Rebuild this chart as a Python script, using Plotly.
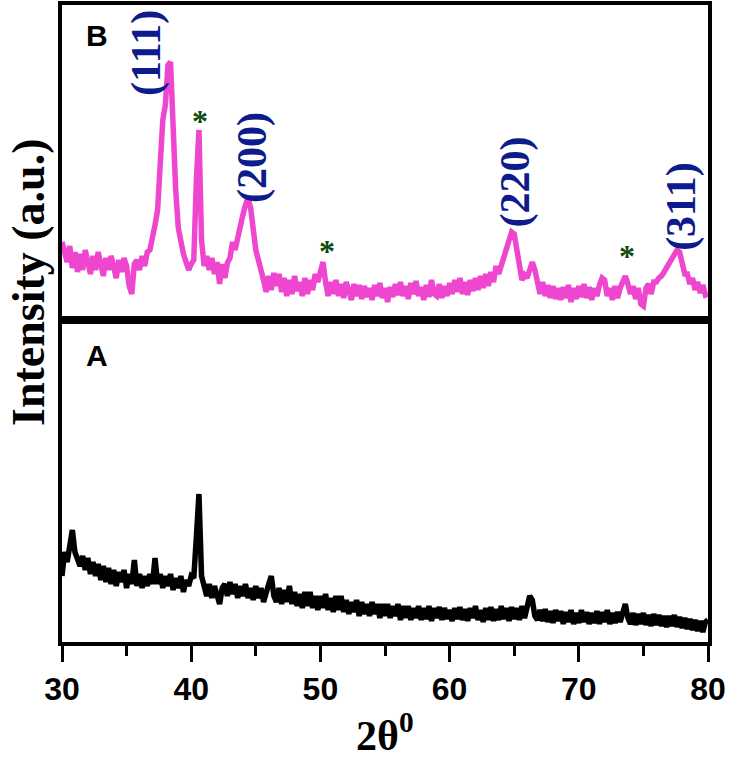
import plotly.graph_objects as go

two_theta = [
    30.0, 30.2, 30.4, 30.6, 30.8, 31.0, 31.2, 31.4, 31.6, 31.8,
    32.0, 32.2, 32.4, 32.6, 32.8, 33.0, 33.2, 33.4, 33.6, 33.8,
    34.0, 34.2, 34.4, 34.6, 34.8, 35.0, 35.2, 35.4, 35.6, 35.8,
    36.0, 36.2, 36.4, 36.6, 36.8, 37.0, 37.2, 37.4, 37.6, 37.8,
    38.0, 38.2, 38.4, 38.6, 38.8, 39.0, 39.2, 39.4, 39.6, 39.8,
    40.0, 40.2, 40.4, 40.6, 40.8, 41.0, 41.2, 41.4, 41.6, 41.8,
    42.0, 42.2, 42.4, 42.6, 42.8, 43.0, 43.2, 43.4, 43.6, 43.8,
    44.0, 44.2, 44.4, 44.6, 44.8, 45.0, 45.2, 45.4, 45.6, 45.8,
    46.0, 46.2, 46.4, 46.6, 46.8, 47.0, 47.2, 47.4, 47.6, 47.8,
    48.0, 48.2, 48.4, 48.6, 48.8, 49.0, 49.2, 49.4, 49.6, 49.8,
    50.0, 50.2, 50.4, 50.6, 50.8, 51.0, 51.2, 51.4, 51.6, 51.8,
    52.0, 52.2, 52.4, 52.6, 52.8, 53.0, 53.2, 53.4, 53.6, 53.8,
    54.0, 54.2, 54.4, 54.6, 54.8, 55.0, 55.2, 55.4, 55.6, 55.8,
    56.0, 56.2, 56.4, 56.6, 56.8, 57.0, 57.2, 57.4, 57.6, 57.8,
    58.0, 58.2, 58.4, 58.6, 58.8, 59.0, 59.2, 59.4, 59.6, 59.8,
    60.0, 60.2, 60.4, 60.6, 60.8, 61.0, 61.2, 61.4, 61.6, 61.8,
    62.0, 62.2, 62.4, 62.6, 62.8, 63.0, 63.2, 63.4, 63.6, 63.8,
    64.0, 64.2, 64.4, 64.6, 64.8, 65.0, 65.2, 65.4, 65.6, 65.8,
    66.0, 66.2, 66.4, 66.6, 66.8, 67.0, 67.2, 67.4, 67.6, 67.8,
    68.0, 68.2, 68.4, 68.6, 68.8, 69.0, 69.2, 69.4, 69.6, 69.8,
    70.0, 70.2, 70.4, 70.6, 70.8, 71.0, 71.2, 71.4, 71.6, 71.8,
    72.0, 72.2, 72.4, 72.6, 72.8, 73.0, 73.2, 73.4, 73.6, 73.8,
    74.0, 74.2, 74.4, 74.6, 74.8, 75.0, 75.2, 75.4, 75.6, 75.8,
    76.0, 76.2, 76.4, 76.6, 76.8, 77.0, 77.2, 77.4, 77.6, 77.8,
    78.0, 78.2, 78.4, 78.6, 78.8, 79.0, 79.2, 79.4, 79.6, 79.8,
    80.0,
]

intensity_B = [
    78, 66, 58, 74, 52, 68, 48, 66, 50, 70,
    58, 46, 64, 50, 68, 54, 44, 62, 50, 64,
    52, 42, 60, 48, 62, 54, 34, 26, 56, 60,
    50, 64, 54, 68, 70, 80, 95, 110, 150, 200,
    215, 255, 258, 190, 130, 92, 78, 66, 58, 50,
    56, 60, 140, 190, 80, 54, 64, 50, 62, 46,
    58, 36, 56, 42, 57, 62, 78, 70, 82, 96,
    105, 115, 122, 112, 90, 70, 60, 52, 40, 28,
    44, 30, 47, 34, 46, 28, 42, 24, 40, 26,
    44, 29, 38, 24, 42, 26, 40, 30, 46, 38,
    50, 58, 38, 24, 38, 26, 40, 24, 36, 22,
    38, 26, 20, 36, 24, 35, 21, 34, 23, 32,
    20, 35, 24, 37, 22, 32, 18, 33, 23, 36,
    25, 38, 24, 34, 21, 37, 26, 39, 24, 33,
    20, 35, 23, 40, 26, 24, 36, 22, 34, 24,
    37, 26, 40, 28, 42, 26, 38, 25, 40, 29,
    42, 30, 44, 32, 46, 34, 48, 38, 54, 46,
    55, 60, 70, 82, 88, 86, 70, 50, 40, 45,
    42, 50, 58, 50, 34, 26, 38, 24, 35, 22,
    34, 21, 32, 20, 33, 22, 35, 18, 32, 21,
    34, 23, 36, 22, 33, 20, 32, 24, 35, 42,
    40, 24, 32, 20, 34, 22, 32, 38, 44, 36,
    26, 34, 21, 32, 16, 14, 32, 36, 26, 38,
    38, 42, 44, 48, 52, 58, 62, 66, 70, 68,
    56, 46, 46, 36, 42, 30, 38, 27, 35, 25,
    26,
]

intensity_A = [
    66, 90, 80, 98, 112, 90, 84, 76, 86, 72,
    84, 68, 80, 66, 78, 62, 76, 60, 74, 58,
    72, 56, 70, 60, 72, 54, 68, 58, 82, 56,
    68, 54, 66, 56, 68, 58, 84, 58, 68, 54,
    66, 56, 68, 52, 64, 54, 66, 50, 62, 56,
    66, 64, 105, 148, 66, 56, 46, 58, 44, 56,
    46, 38, 54, 58, 46, 60, 48, 58, 44, 56,
    46, 58, 44, 54, 42, 56, 44, 54, 40, 52,
    58, 66, 46, 40, 54, 38, 52, 40, 56, 38,
    50, 36, 48, 34, 50, 36, 50, 34, 46, 32,
    46, 34, 48, 32, 44, 30, 46, 32, 46, 30,
    42, 28, 40, 30, 42, 26, 40, 28, 38, 26,
    40, 28, 38, 24, 38, 26, 38, 24, 36, 26,
    38, 22, 36, 24, 36, 22, 34, 24, 36, 22,
    34, 23, 36, 21, 34, 24, 35, 22, 34, 23,
    32, 21, 34, 23, 35, 22, 33, 21, 34, 24,
    36, 22, 32, 20, 34, 22, 35, 21, 33, 22,
    36, 23, 34, 21, 35, 23, 34, 22, 36, 24,
    38, 46, 42, 26, 22, 32, 21, 33, 20, 31,
    19, 32, 21, 31, 18, 30, 20, 32, 18, 29,
    19, 32, 20, 30, 18, 29, 19, 31, 18, 30,
    20, 32, 18, 29, 19, 30, 20, 32, 38, 24,
    18, 29, 17, 28, 18, 29, 17, 27, 16, 28,
    17, 27, 16, 26, 15, 26, 16, 27, 15, 25,
    14, 24, 13, 23, 12, 22, 11, 21, 10, 20,
    22,
]

hkl_labels = ["(111)", "(200)", "(220)", "(311)"]
hkl_x = [36.5, 44.7, 65.1, 77.9]
hkl_y = [267, 163, 138, 114]

star_x = [40.7, 50.5, 73.7]
star_y = [199, 69, 64]

x_ticks = [30, 40, 50, 60, 70, 80]

MAGENTA = "#EE46CF"
NAVY = "#0D1B8C"
GREEN = "#0A4A0A"

fig = go.Figure()
fig.add_trace(go.Scatter(x=two_theta, y=intensity_A, mode="lines",
                         line=dict(color="black", width=5.5), xaxis="x", yaxis="y",
                         showlegend=False))
fig.add_trace(go.Scatter(x=two_theta, y=intensity_B, mode="lines",
                         line=dict(color=MAGENTA, width=5.5), xaxis="x2", yaxis="y2",
                         showlegend=False))

split = 322 / 637
frame = dict(showline=True, linecolor="black", linewidth=3.5, mirror=True,
             showgrid=False, zeroline=False, automargin=False)

fig.update_layout(
    width=735, height=758,
    margin=dict(l=62, r=27, t=5, b=116, autoexpand=False),
    paper_bgcolor="white", plot_bgcolor="white",
    xaxis=dict(range=[30, 80], domain=[0, 1], anchor="y", tickvals=x_ticks,
               ticks="outside", ticklen=16, tickwidth=3, tickcolor="black",
               minor=dict(dtick=5, tick0=30, ticks="outside", ticklen=10,
                          tickwidth=3, tickcolor="black"),
               tickfont=dict(family="Liberation Sans", size=32, color="black",
                             weight="bold"),
               **frame),
    yaxis=dict(range=[0, 322], domain=[0, split], anchor="x",
               showticklabels=False, ticks="", **frame),
    xaxis2=dict(range=[30, 80], domain=[0, 1], anchor="y2", matches="x",
                showticklabels=False, ticks="", **frame),
    yaxis2=dict(range=[0, 315], domain=[split, 1], anchor="x2",
                showticklabels=False, ticks="", **frame),
)

annotations = []
for t, x, y in zip(hkl_labels, hkl_x, hkl_y):
    annotations.append(dict(text="<b>%s</b>" % t, x=x, y=y, xref="x2", yref="y2",
                            xanchor="center", yanchor="middle",
                            showarrow=False, textangle=-90,
                            font=dict(family="Liberation Serif", size=42, color=NAVY)))
for x, y in zip(star_x, star_y):
    annotations.append(dict(text="<b>*</b>", x=x, y=y, xref="x2", yref="y2",
                            xanchor="center", yanchor="middle", showarrow=False,
                            font=dict(family="Liberation Serif", size=32, color=GREEN)))

annotations += [
    dict(text="<b>B</b>", x=(97 - 62) / 646, y=(642 - 36) / 637, xref="paper", yref="paper",
         xanchor="center", yanchor="middle", showarrow=False,
         font=dict(family="Liberation Sans", size=30, color="black")),
    dict(text="<b>A</b>", x=(97 - 62) / 646, y=(642 - 356) / 637, xref="paper", yref="paper",
         xanchor="center", yanchor="middle", showarrow=False,
         font=dict(family="Liberation Sans", size=30, color="black")),
    dict(text="<b>Intensity (a.u.)</b>", x=(28 - 62) / 646, y=(642 - 282) / 637,
         xref="paper", yref="paper", xanchor="center", yanchor="middle",
         showarrow=False, textangle=-90,
         font=dict(family="Liberation Serif", size=46, color="black")),
    dict(text="<b>2θ<sup>0</sup></b>", x=(385 - 62) / 646, y=(642 - 732) / 637,
         xref="paper", yref="paper", xanchor="center", yanchor="middle",
         showarrow=False,
         font=dict(family="Liberation Serif", size=42, color="black")),
]
fig.update_layout(annotations=annotations)

fig.write_html("out.html", config={"displayModeBar": False},
               post_script="document.body.style.margin='0';document.body.style.padding='0';")
